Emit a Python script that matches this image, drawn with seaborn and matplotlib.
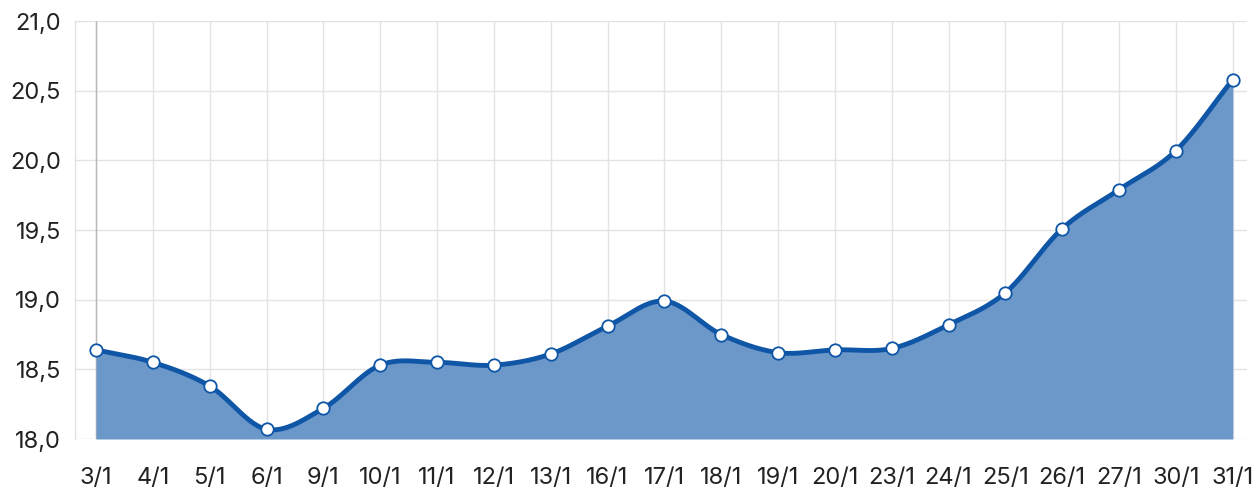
import numpy as np
import pandas as pd
import matplotlib
matplotlib.use('Agg')
import matplotlib.pyplot as plt
import seaborn as sns
from matplotlib.ticker import FuncFormatter

# dữ liệu
dates = ['3/1', '4/1', '5/1', '6/1', '9/1', '10/1', '11/1', '12/1', '13/1', '16/1',
         '17/1', '18/1', '19/1', '20/1', '23/1', '24/1', '25/1', '26/1', '27/1', '30/1', '31/1']
values = [18.64, 18.55, 18.38, 18.07, 18.22, 18.53, 18.55, 18.53, 18.61, 18.81,
          18.99, 18.75, 18.62, 18.64, 18.65, 18.82, 19.05, 19.51, 19.79, 20.07, 20.58]
y_ticks = [18.0, 18.5, 19.0, 19.5, 20.0, 20.5, 21.0]

LINE = '#0f56a6'
FILL = '#6b97c9'
GRID = '#e3e3e3'


def smooth(y, n=30):
    # catmull-rom spline qua các điểm (chỉ để vẽ đường cong)
    y = np.asarray(y, dtype=float)
    m = np.empty_like(y)
    m[1:-1] = (y[2:] - y[:-2]) / 2
    m[0] = y[1] - y[0]
    m[-1] = y[-1] - y[-2]
    xs, ys = [], []
    for i in range(len(y) - 1):
        t = np.linspace(0, 1, n, endpoint=False)
        h00 = 2 * t**3 - 3 * t**2 + 1
        h10 = t**3 - 2 * t**2 + t
        h01 = -2 * t**3 + 3 * t**2
        h11 = t**3 - t**2
        xs.append(i + t)
        ys.append(h00 * y[i] + h10 * m[i] + h01 * y[i + 1] + h11 * m[i + 1])
    xs.append([len(y) - 1])
    ys.append([y[-1]])
    return np.concatenate(xs), np.concatenate(ys)


def main():
    sns.set_style('white')
    plt.rcParams['font.family'] = ['Inter', 'DejaVu Sans']

    fig = plt.figure(figsize=(12.53, 4.87), dpi=100)
    # vùng vẽ: trái 75px, phải 1247px, trên 21px, dưới 439px
    ax = fig.add_axes([75 / 1253, 48 / 487, 1172 / 1253, 418 / 487])

    df = pd.DataFrame({'x': np.arange(len(dates)), 'y': values})
    sx, sy = smooth(values)
    curve = pd.DataFrame({'x': sx, 'y': sy})

    ax.fill_between(curve.x, 18.0, curve.y, color=FILL, lw=0, zorder=2)
    sns.lineplot(data=curve, x='x', y='y', ax=ax, color=LINE, lw=3.5, zorder=3)
    sns.scatterplot(data=df, x='x', y='y', ax=ax, color='white', edgecolor=LINE,
                    s=80, linewidth=1.3, zorder=4)

    ax.set_xlim(-0.37, len(dates) - 0.75)
    ax.set_ylim(18.0, 21.0)
    ax.set_xticks(np.arange(len(dates)))
    ax.set_xticklabels(dates)
    ax.set_yticks(y_ticks)
    ax.yaxis.set_major_formatter(FuncFormatter(lambda v, p: f'{v:.1f}'.replace('.', ',')))

    ax.grid(True, color=GRID, lw=1, zorder=0)
    ax.set_axisbelow(True)
    ax.axvline(0, color='#b8b8b8', lw=1, zorder=1)
    for s in ax.spines.values():
        s.set_visible(False)
    ax.spines['left'].set_visible(True)
    ax.spines['left'].set_color(GRID)
    ax.spines['left'].set_linewidth(1)
    ax.tick_params(axis='x', length=12, width=1, color=GRID, pad=8, labelsize=17, labelcolor='#222222')
    ax.tick_params(axis='y', length=8, width=1, color=GRID, pad=2, labelsize=17, labelcolor='#222222')
    ax.set_xlabel('')
    ax.set_ylabel('')

    fig.savefig('out.png', dpi=100)


if __name__ == '__main__':
    main()
